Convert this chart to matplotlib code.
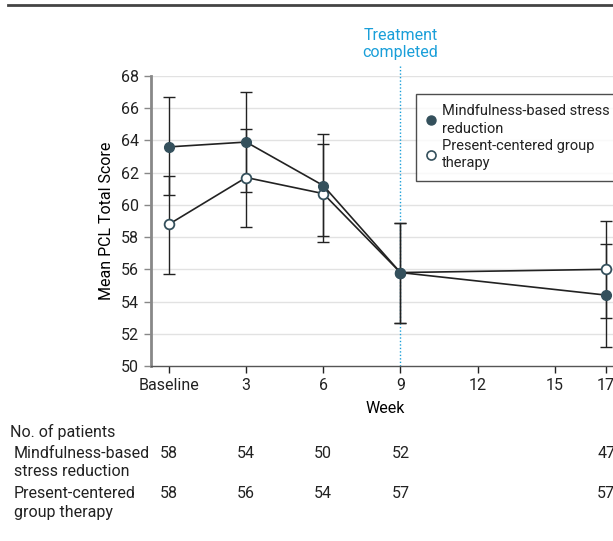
import matplotlib.pyplot as plt
import matplotlib.transforms as mtransforms
from matplotlib.lines import Line2D

plt.rcParams['font.family'] = ['Roboto', 'DejaVu Sans']

# weeks (0 = baseline)
weeks = [0, 3, 6, 9, 17]
tick_weeks = [0, 3, 6, 9, 12, 15, 17]
tick_labels = ['Baseline', '3', '6', '9', '12', '15', '17']

# Mindfulness-based stress reduction
mbsr_mean = [63.6, 63.9, 61.2, 55.8, 54.4]
mbsr_low = [60.6, 60.8, 58.1, 52.7, 51.2]
mbsr_high = [66.7, 67.0, 64.4, 58.9, 57.6]

# Present-centered group therapy
pcgt_mean = [58.8, 61.7, 60.7, 55.8, 56.0]
pcgt_low = [55.7, 58.6, 57.7, 52.7, 53.0]
pcgt_high = [61.8, 64.7, 63.8, 58.9, 59.0]

# number of patients table
n_mbsr = [58, 54, 50, 52, 47]
n_pcgt = [58, 56, 54, 57, 57]

dark = '#34505c'
txt = '#222222'
fs = 11.5

fig = plt.figure(figsize=(6.13, 5.41), dpi=100)
W, H = 613, 541
ax = fig.add_axes([151 / W, 1 - 366 / H, 468 / W, 290 / H])

ax.set_xlim(-0.7, 17.5)
ax.set_ylim(50, 68)

# grid
for y in range(52, 69, 2):
    ax.axhline(y, color='#e2e2e2', lw=1, zorder=0)

# treatment completed line
ax.plot([9, 9], [50, 68.6], color='#1a9fd9', lw=1, ls=(0, (1, 1.5)), clip_on=False, zorder=1)
ax.text(9, 70.0, 'Treatment\ncompleted', color='#1a9fd9', ha='center', va='center',
        fontsize=fs, linespacing=1.2)

# error bars
for means, lo, hi in [(mbsr_mean, mbsr_low, mbsr_high), (pcgt_mean, pcgt_low, pcgt_high)]:
    err = [[m - l for m, l in zip(means, lo)], [h - m for m, h in zip(means, hi)]]
    ax.errorbar(weeks, means, yerr=err, fmt='none', ecolor=txt, elinewidth=1,
                capsize=4.5, capthick=1, zorder=2, clip_on=False)

ax.plot(weeks, pcgt_mean, color=txt, lw=1.2, marker='o', ms=7,
        mfc='white', mec=dark, mew=1.3, zorder=3, clip_on=False)
ax.plot(weeks, mbsr_mean, color=txt, lw=1.2, marker='o', ms=7,
        mfc=dark, mec=dark, zorder=4, clip_on=False)

# axes styling
for s in ['top', 'right']:
    ax.spines[s].set_visible(False)
ax.spines['left'].set_color('#888888')
ax.spines['left'].set_linewidth(2)
ax.spines['bottom'].set_color('#555555')
ax.spines['bottom'].set_linewidth(1)
ax.set_xticks(tick_weeks)
ax.set_xticklabels(tick_labels)
ax.set_yticks(range(50, 69, 2))
ax.tick_params(axis='both', labelsize=fs, colors=txt, length=5, width=1)
ax.tick_params(axis='y', color='#888888')
ax.set_xlabel('Week', fontsize=fs, labelpad=6)
ax.set_ylabel('Mean PCL Total Score', fontsize=fs, labelpad=5)

# legend
handles = [
    Line2D([], [], ls='none', marker='o', ms=6.5, mfc=dark, mec=dark),
    Line2D([], [], ls='none', marker='o', ms=6.5, mfc='white', mec=dark, mew=1.2),
]
labels = ['Mindfulness-based stress\nreduction', 'Present-centered group\ntherapy']
leg = fig.legend(handles, labels, loc='upper left', bbox_to_anchor=(416 / W, 1 - 94 / H),
                 fontsize=10.5, frameon=True, fancybox=False, edgecolor=txt,
                 handlelength=0.6, handletextpad=0.5, borderpad=0.7, labelspacing=0.25,
                 borderaxespad=0)
leg.get_frame().set_linewidth(1)
for t in leg.get_texts():
    t.set_linespacing(1.3)
    t.set_color(txt)

# top rule
fig.add_artist(Line2D([8 / W, 1], [1 - 5 / H, 1 - 5 / H], color='#444444', lw=2))

# patient table
tr = mtransforms.blended_transform_factory(ax.transData, fig.transFigure)
fig.text(10 / W, 1 - 432 / H, 'No. of patients', fontsize=fs, va='center', color=txt)
fig.text(14 / W, 1 - 453 / H, 'Mindfulness-based', fontsize=fs, va='center', color=txt)
fig.text(14 / W, 1 - 472 / H, 'stress reduction', fontsize=fs, va='center', color=txt)
fig.text(14 / W, 1 - 494 / H, 'Present-centered', fontsize=fs, va='center', color=txt)
fig.text(14 / W, 1 - 513 / H, 'group therapy', fontsize=fs, va='center', color=txt)
for w, a, b in zip(weeks, n_mbsr, n_pcgt):
    ax.text(w, 1 - 453 / H, str(a), transform=tr, ha='center', va='center', fontsize=fs,
            color=txt, clip_on=False)
    ax.text(w, 1 - 494 / H, str(b), transform=tr, ha='center', va='center', fontsize=fs,
            color=txt, clip_on=False)

fig.savefig('out.png', dpi=100)
